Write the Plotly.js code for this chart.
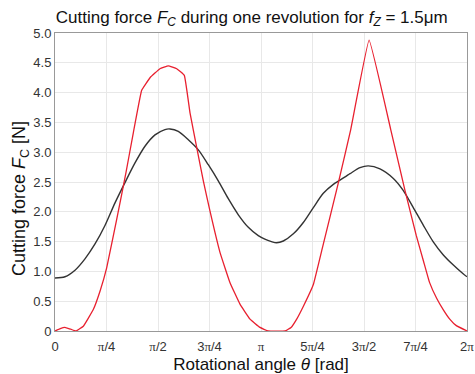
<!DOCTYPE html>
<html>
<head>
<meta charset="utf-8">
<script src="https://cdn.plot.ly/plotly-3.0.1.min.js"></script>
<style>html,body{margin:0;padding:0;background:#fff;}#chart{width:475px;height:374px;}</style>
</head>
<body>
<div id="chart"></div>
<script>
// Red series: cutting force (theta in rad, force in N)
const redTheta = [0, 0.08, 0.15, 0.24, 0.32, 0.432, 0.584, 0.69, 0.788, 0.94, 1.083, 1.195, 1.322, 1.449, 1.6, 1.728, 1.856, 1.972, 2.059, 2.161, 2.262, 2.364, 2.516, 2.669, 2.821, 2.974, 3.126, 3.25, 3.51, 3.6, 3.686, 3.79, 3.94, 4.09, 4.32, 4.51, 4.79, 5.12, 5.337, 5.51, 5.62, 5.71, 5.82, 5.92, 6.02, 6.12, 6.283];
const redForce = [0, 0.04, 0.06, 0.03, 0, 0.08, 0.36, 0.68, 1.06, 1.87, 2.66, 3.33, 4.04, 4.25, 4.40, 4.45, 4.40, 4.29, 3.66, 3.08, 2.52, 2.01, 1.32, 0.81, 0.45, 0.20, 0.06, 0, 0, 0.06, 0.2, 0.42, 0.78, 1.45, 2.48, 3.38, 4.88, 3.38, 2.36, 1.6, 1.17, 0.82, 0.55, 0.36, 0.2, 0.09, 0];
// Black series
const blackTheta = [0, 0.152, 0.305, 0.457, 0.61, 0.762, 0.915, 1.067, 1.22, 1.372, 1.525, 1.677, 1.754, 1.88, 2.033, 2.186, 2.338, 2.49, 2.643, 2.796, 2.948, 3.1, 3.2, 3.3, 3.38, 3.482, 3.635, 3.787, 3.94, 4.092, 4.245, 4.346, 4.499, 4.651, 4.778, 4.956, 5.16, 5.31, 5.46, 5.614, 5.766, 5.919, 6.071, 6.224, 6.283];
const blackForce = [0.89, 0.91, 1.02, 1.21, 1.46, 1.77, 2.15, 2.49, 2.82, 3.10, 3.29, 3.38, 3.39, 3.35, 3.21, 3.04, 2.79, 2.52, 2.22, 1.95, 1.74, 1.60, 1.54, 1.50, 1.48, 1.51, 1.63, 1.82, 2.07, 2.31, 2.46, 2.53, 2.64, 2.74, 2.77, 2.72, 2.56, 2.36, 2.08, 1.78, 1.50, 1.28, 1.11, 0.96, 0.91];
// Tick labels
const xTickVals = [0, Math.PI/4, Math.PI/2, 3*Math.PI/4, Math.PI, 5*Math.PI/4, 3*Math.PI/2, 7*Math.PI/4, 2*Math.PI];
const xTickText = ['0', 'π/4', 'π/2', '3π/4', 'π', '5π/4', '3π/2', '7π/4', '2π'];
const yTickVals = [0, 0.5, 1, 1.5, 2, 2.5, 3, 3.5, 4, 4.5, 5];
const yTickText = ['0', '0.5', '1.0', '1.5', '2.0', '2.5', '3.0', '3.5', '4.0', '4.5', '5.0'];

const font = 'Liberation Sans, Arial, sans-serif';
const piStyle = t => t.replace(/π/g, '<span style="font-family:Liberation Serif">π</span>');
const traces = [
  {x: blackTheta, y: blackForce, mode: 'lines', line: {color: '#333333', width: 1.4, shape: 'spline', smoothing: 0.8}, hoverinfo: 'none'},
  {x: redTheta, y: redForce, mode: 'lines', line: {color: '#e8202f', width: 1.3, shape: 'spline', smoothing: 0.25}, hoverinfo: 'none'}
];
const layout = {
  width: 475, height: 374,
  margin: {l: 55, r: 8, t: 33, b: 43},
  paper_bgcolor: '#fff', plot_bgcolor: '#fff',
  showlegend: false,
  font: {family: font, color: '#333', size: 13},
  title: {text: 'Cutting force <i>F</i><sub><i>C</i></sub> during one revolution for <i>f</i><sub><i>Z</i></sub> = 1.5μm',
          font: {family: font, size: 17, color: '#111'}, x: 0.53, xref: 'container', y: 0.955, yref: 'container', xanchor: 'center', yanchor: 'middle'},
  xaxis: {
    range: [0, 2*Math.PI], tickvals: xTickVals, ticktext: xTickText.map(piStyle),
    showgrid: true, gridcolor: '#e8e8e8', gridwidth: 1,
    showline: true, linecolor: '#999', linewidth: 1, mirror: true,
    ticks: '', zeroline: false, tickfont: {size: 13, color: '#333'},
    ticklabeloverflow: 'allow', ticklabelstandoff: 3,
    title: {text: 'Rotational angle <i>θ</i> [rad]', font: {size: 17, color: '#111'}, standoff: 6}
  },
  yaxis: {
    range: [0, 5], tickvals: yTickVals, ticktext: yTickText,
    showgrid: true, gridcolor: '#e8e8e8', gridwidth: 1,
    showline: true, linecolor: '#999', linewidth: 1, mirror: true,
    ticks: '', zeroline: false, tickfont: {size: 13, color: '#333'}
  },
  annotations: [{
    text: 'Cutting force <i>F</i><sub>C</sub> [N]', textangle: -90,
    xref: 'paper', yref: 'paper', x: -0.085, y: 0.446, xanchor: 'center', yanchor: 'middle',
    showarrow: false, font: {family: font, size: 18, color: '#111'}
  }]
};
Plotly.newPlot('chart', traces, layout, {displayModeBar: false, staticPlot: true});
</script>
</body>
</html>
